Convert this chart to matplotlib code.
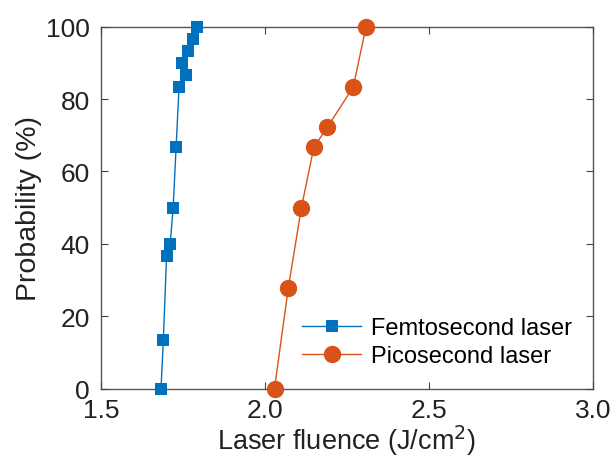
import matplotlib
matplotlib.use("Agg")
import matplotlib.pyplot as plt

femto_fluence = [1.683, 1.690, 1.700, 1.711, 1.720, 1.729, 1.738, 1.759, 1.748, 1.766, 1.782, 1.794]
femto_prob = [0, 13.3, 36.7, 40.0, 50.0, 66.7, 83.3, 86.7, 90.0, 93.3, 96.7, 100]
pico_fluence = [2.029, 2.071, 2.111, 2.149, 2.190, 2.269, 2.308]
pico_prob = [0, 27.8, 50.0, 66.7, 72.2, 83.3, 100]
series_labels = ["Femtosecond laser", "Picosecond laser"]
x_ticks = [1.5, 2.0, 2.5, 3.0]
x_tick_labels = ["1.5", "2.0", "2.5", "3.0"]
y_ticks = [0, 20, 40, 60, 80, 100]

plt.rcParams['font.family'] = ['Liberation Sans', 'DejaVu Sans']

fig = plt.figure(figsize=(6.12, 4.6), dpi=100)
ax = fig.add_axes([0.165, 0.153, 0.804, 0.787])

blue = '#0072BD'
orange = '#D95319'
ax.plot(femto_fluence, femto_prob, '-s', color=blue, lw=1.0, ms=9,
        label=series_labels[0], markeredgewidth=0, clip_on=False)
ax.plot(pico_fluence, pico_prob, '-o', color=orange, lw=1.0, ms=12.5,
        label=series_labels[1], markeredgewidth=0, clip_on=False)

ax.set_xlim(1.5, 3.0)
ax.set_ylim(0, 100)
ax.set_xticks(x_ticks)
ax.set_xticklabels(x_tick_labels)
ax.set_yticks(y_ticks)
ax.tick_params(direction='in', top=True, right=True, labelsize=19,
               length=5, width=0.8, color='#444444', labelcolor='#222222')
ax.tick_params(axis='x', pad=7)
ax.tick_params(axis='y', pad=8)
for s in ax.spines.values():
    s.set_color('#555555')
    s.set_linewidth(1.0)
    s.set_zorder(0)

ax.set_xlabel('Laser fluence (J/cm$^2$)', fontsize=19.5, color='#222222', labelpad=0)
ax.set_ylabel('Probability (%)', fontsize=20.5, color='#222222', labelpad=3)

leg = ax.legend(loc='lower right', frameon=False, fontsize=17,
                bbox_to_anchor=(1.0, 0.0), handlelength=2.5,
                handletextpad=0.4, labelspacing=0.25)

fig.savefig('out.png', dpi=100)
